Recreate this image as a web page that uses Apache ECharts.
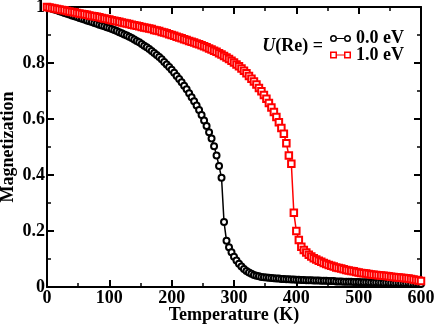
<!DOCTYPE html>
<html>
<head>
<meta charset="utf-8">
<script src="https://cdn.jsdelivr.net/npm/echarts@6/dist/echarts.min.js"></script>
<style>html,body{margin:0;padding:0;background:#fff}#c{width:436px;height:327px}</style>
</head>
<body>
<div id="c"></div>
<script>
var temperature = [
  0,4,8,12,16,20,24,28,32,36,
  40,44,48,52,56,60,64,68,72,76,
  80,84,88,92,96,100,104,108,112,116,
  120,124,128,132,136,140,144,148,152,156,
  160,164,168,172,176,180,184,188,192,196,
  200,204,208,212,216,220,224,228,232,236,
  240,244,248,252,256,260,264,268,272,276,
  280,284,288,292,296,300,304,308,312,316,
  320,324,328,332,336,340,344,348,352,356,
  360,364,368,372,376,380,384,388,392,396,
  400,404,408,412,416,420,424,428,432,436,
  440,444,448,452,456,460,464,468,472,476,
  480,484,488,492,496,500,504,508,512,516,
  520,524,528,532,536,540,544,548,552,556,
  560,564,568,572,576,580,584,588,592,596,
  600
];
var magU0 = [
  1.000,0.997,0.994,0.991,0.988,0.985,0.982,0.979,0.976,0.973,
  0.970,0.967,0.964,0.961,0.958,0.955,0.952,0.949,0.946,0.943,
  0.940,0.937,0.934,0.931,0.928,0.925,0.921,0.918,0.914,0.910,
  0.906,0.902,0.898,0.894,0.889,0.884,0.879,0.874,0.868,0.862,
  0.856,0.850,0.843,0.836,0.829,0.821,0.813,0.804,0.795,0.786,
  0.776,0.765,0.754,0.743,0.731,0.719,0.706,0.692,0.678,0.663,
  0.648,0.632,0.614,0.595,0.575,0.553,0.530,0.503,0.470,0.432,
  0.390,0.232,0.165,0.142,0.124,0.108,0.095,0.083,0.073,0.064,
  0.057,0.052,0.047,0.043,0.040,0.038,0.036,0.035,0.034,0.033,
  0.032,0.031,0.030,0.030,0.029,0.029,0.028,0.028,0.027,0.027,
  0.026,0.026,0.025,0.025,0.024,0.024,0.024,0.023,0.023,0.023,
  0.022,0.022,0.022,0.021,0.021,0.021,0.020,0.020,0.020,0.019,
  0.019,0.019,0.019,0.018,0.018,0.018,0.017,0.017,0.017,0.017,
  0.016,0.016,0.016,0.016,0.015,0.015,0.015,0.015,0.014,0.014,
  0.014,0.014,0.013,0.013,0.013,0.013,0.012,0.012,0.012,0.011,
  0.011
];
var magU1 = [
  1.000,0.998,0.996,0.995,0.993,0.991,0.989,0.988,0.986,0.984,
  0.982,0.981,0.979,0.977,0.975,0.974,0.972,0.970,0.968,0.967,
  0.965,0.963,0.961,0.959,0.957,0.955,0.953,0.951,0.949,0.947,
  0.945,0.943,0.941,0.939,0.937,0.935,0.933,0.931,0.929,0.927,
  0.925,0.923,0.921,0.918,0.916,0.914,0.911,0.909,0.906,0.903,
  0.900,0.897,0.894,0.891,0.888,0.885,0.882,0.879,0.876,0.873,
  0.870,0.867,0.863,0.860,0.856,0.852,0.848,0.844,0.840,0.835,
  0.830,0.825,0.820,0.814,0.808,0.802,0.795,0.788,0.780,0.772,
  0.763,0.754,0.744,0.734,0.723,0.711,0.699,0.686,0.672,0.657,
  0.641,0.625,0.607,0.588,0.568,0.547,0.513,0.470,0.440,0.265,
  0.200,0.168,0.144,0.132,0.123,0.115,0.109,0.103,0.098,0.094,
  0.090,0.086,0.082,0.079,0.076,0.073,0.070,0.068,0.066,0.063,
  0.061,0.059,0.057,0.056,0.054,0.052,0.050,0.049,0.048,0.046,
  0.045,0.044,0.043,0.042,0.041,0.040,0.039,0.038,0.037,0.036,
  0.035,0.034,0.033,0.032,0.031,0.030,0.029,0.027,0.025,0.023,
  0.021
];
var seriesNames = ['0.0 eV', '1.0 eV'];
var xTicks = [0, 100, 200, 300, 400, 500, 600];
var yTicks = [0, 0.2, 0.4, 0.6, 0.8, 1];

function pairs(xs, ys) { return xs.map(function (x, i) { return [x, ys[i]]; }); }

var FONT = '"Liberation Serif", "Times New Roman", serif';
var lbl = { fontFamily: FONT, fontWeight: 'bold', fontSize: 18, color: '#000' };
var circleIcon = 'path://M0.5,4 A3.5,3.5 0 1 1 7.5,4 A3.5,3.5 0 1 1 0.5,4 Z M2,4 A2,2 0 1 0 6,4 A2,2 0 1 0 2,4 Z M7.5,3.4 H14.5 V4.6 H7.5 Z M14.5,4 A3.5,3.5 0 1 1 21.5,4 A3.5,3.5 0 1 1 14.5,4 Z M16,4 A2,2 0 1 0 20,4 A2,2 0 1 0 16,4 Z';
var rectIcon = 'path://M0.5,0.5 H7.5 V7.5 H0.5 Z M2,2 V6 H6 V2 Z M7.5,3.4 H14.5 V4.6 H7.5 Z M14.5,0.5 H21.5 V7.5 H14.5 Z M16,2 V6 H20 V2 Z';

function axisBase(showLabel) {
  return {
    axisLine: { show: true, onZero: false, lineStyle: { color: '#000', width: 2 } },
    axisTick: { show: true, inside: true, length: 7, lineStyle: { color: '#000', width: 2 } },
    minorTick: { show: true, splitNumber: 2, length: 4, lineStyle: { color: '#000', width: 1.5 } },
    splitLine: { show: false },
    minorSplitLine: { show: false },
    axisLabel: Object.assign({ show: showLabel, margin: 2 }, lbl)
  };
}

var chart = echarts.init(document.getElementById('c'), null, { renderer: 'canvas' });
chart.setOption({
  animation: false,
  backgroundColor: '#fff',
  grid: { left: 47, right: 15, top: 7, bottom: 40, containLabel: false, outerBoundsMode: 'none' },
  xAxis: [
    Object.assign(axisBase(true), {
      type: 'value', min: xTicks[0], max: xTicks[xTicks.length - 1], interval: 100, position: 'bottom',
      name: 'Temperature (K)', nameLocation: 'middle', nameGap: 19, nameMoveOverlap: false, nameTextStyle: lbl
    }),
    Object.assign(axisBase(false), {
      type: 'value', min: 0, max: 600, interval: 100, position: 'top'
    })
  ],
  yAxis: [
    Object.assign(axisBase(true), {
      type: 'value', min: yTicks[0], max: yTicks[yTicks.length - 1], interval: 0.2, position: 'left',
      name: 'Magnetization', nameLocation: 'middle', nameGap: 30, nameMoveOverlap: false, nameTextStyle: lbl
    }),
    Object.assign(axisBase(false), {
      type: 'value', min: 0, max: 1, interval: 0.2, position: 'right'
    })
  ],
  legend: [
    { data: [{ name: seriesNames[0], icon: circleIcon, itemStyle: { color: '#000', borderWidth: 0 } }],
      left: 330, top: 29.5, itemWidth: 21, itemHeight: 8, itemGap: 0, padding: 0,
      textStyle: Object.assign({ lineHeight: 18 }, lbl), selectedMode: false },
    { data: [{ name: seriesNames[1], icon: rectIcon, itemStyle: { color: '#ff0000', borderWidth: 0 } }],
      left: 330, top: 46, itemWidth: 21, itemHeight: 8, itemGap: 0, padding: 0,
      textStyle: Object.assign({ lineHeight: 18 }, lbl), selectedMode: false }
  ],
  graphic: [{
    type: 'text', x: 323, y: 46,
    style: {
      text: '{i|U}{n|(Re) =}',
      align: 'right', verticalAlign: 'middle',
      rich: {
        i: { fontFamily: FONT, fontWeight: 'bold', fontStyle: 'italic', fontSize: 18, fill: '#000' },
        n: { fontFamily: FONT, fontWeight: 'bold', fontSize: 18, fill: '#000' }
      }
    }
  }],
  series: [
    {
      name: seriesNames[0], type: 'line', xAxisIndex: 0, yAxisIndex: 0,
      data: pairs(temperature, magU0),
      symbol: 'emptyCircle', symbolSize: 6, showAllSymbol: true,
      lineStyle: { color: '#000', width: 1.5 },
      itemStyle: { color: '#000', borderColor: '#000', borderWidth: 1.2 },
      emphasis: { disabled: true }
    },
    {
      name: seriesNames[1], type: 'line', xAxisIndex: 0, yAxisIndex: 0,
      data: pairs(temperature, magU1),
      symbol: 'emptyRect', symbolSize: 6.5, showAllSymbol: true,
      lineStyle: { color: '#ff0000', width: 1.5 },
      itemStyle: { color: '#ff0000', borderColor: '#ff0000', borderWidth: 1.2 },
      emphasis: { disabled: true }
    }
  ]
});
</script>
</body>
</html>
